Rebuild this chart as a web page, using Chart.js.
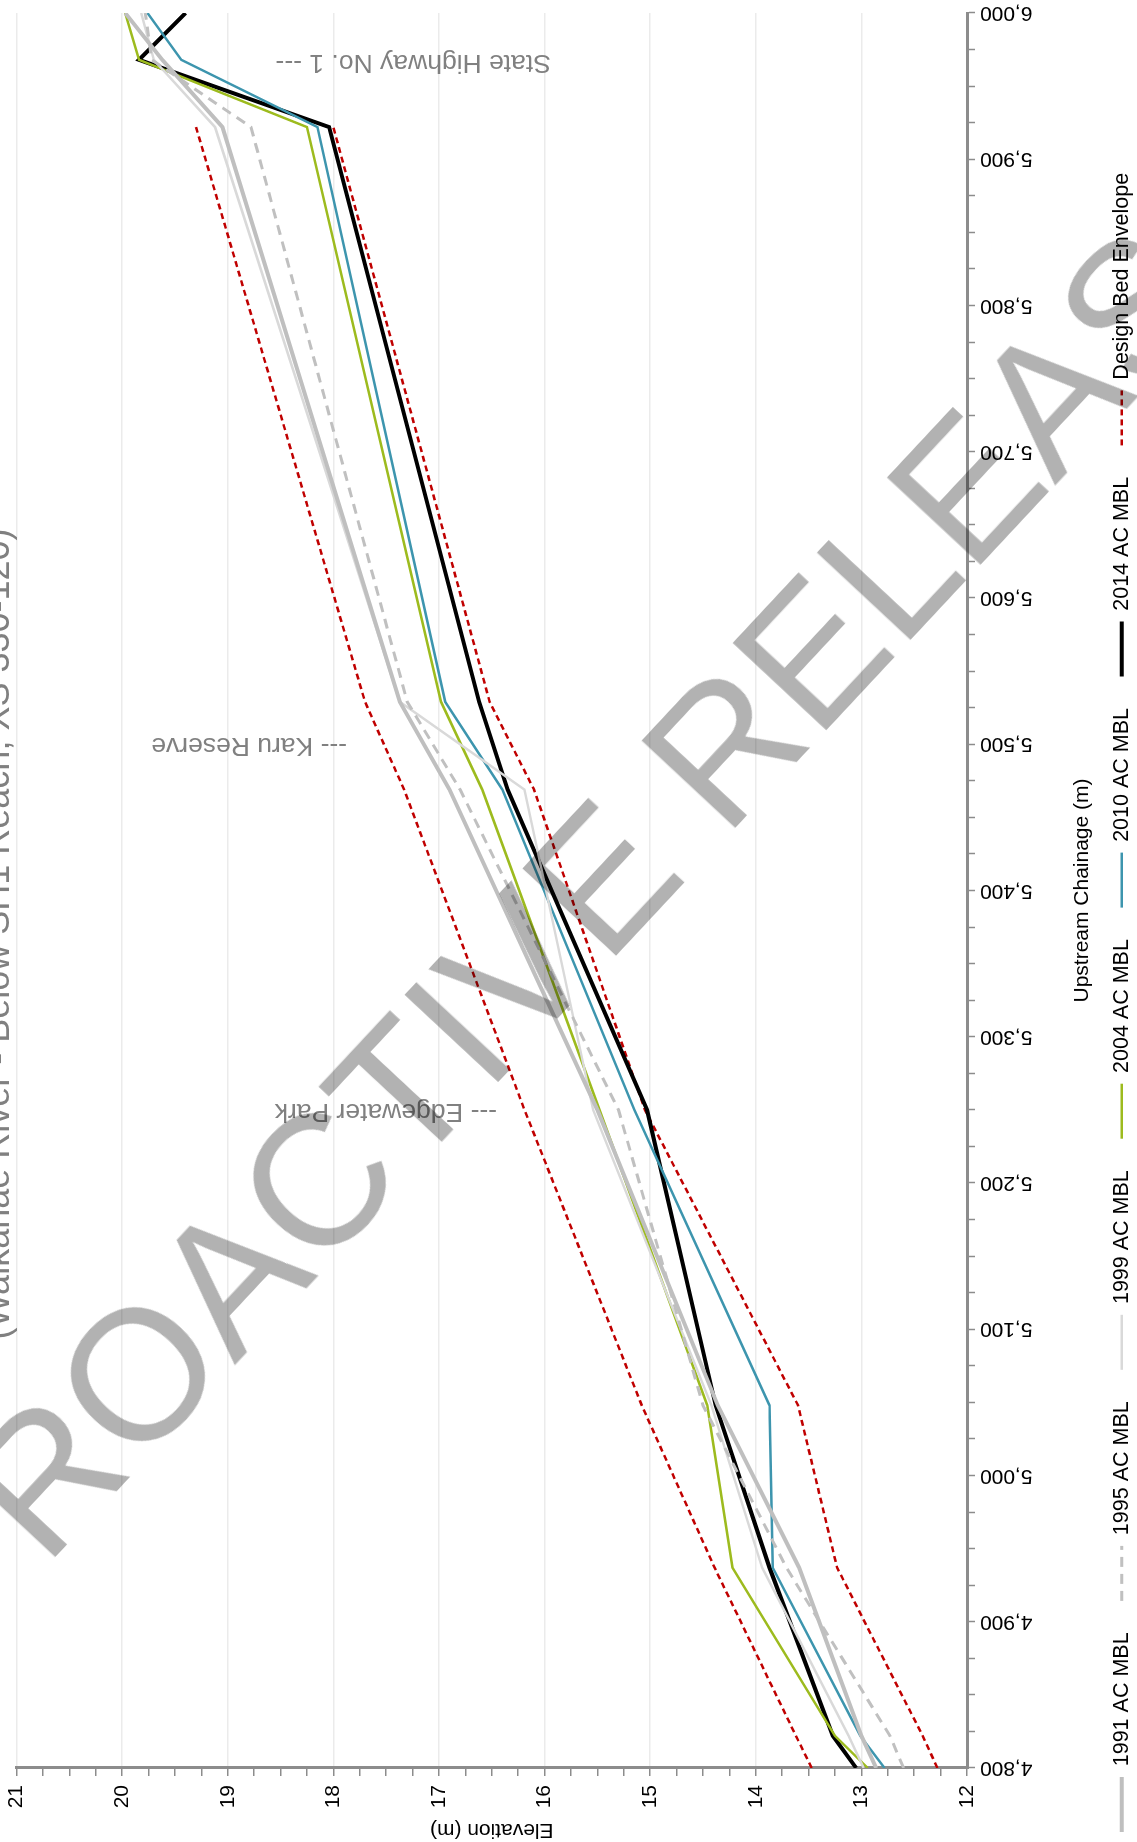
<!DOCTYPE html>
<html>
<head>
<meta charset="utf-8">
<title>Waikanae River - Below SH1 Reach</title>
<script src="https://cdn.jsdelivr.net/npm/chart.js@4.4.1/dist/chart.umd.min.js"></script>
<style>
  html, body { margin: 0; padding: 0; background: #fff; width: 1137px; height: 1842px; overflow: hidden; }
  #wrap { position: absolute; left: 0; top: 0; width: 1842px; height: 1137px;
          transform-origin: 0 0; transform: translate(0, 1842px) rotate(-90deg); }
  #stamp { position: absolute; left: 587px; top: 893px; transform: translate(-50%, -50%) rotate(-47deg);
           font: 185px "Liberation Sans", Arial, sans-serif; color: rgba(0, 0, 0, 0.3);
           white-space: nowrap; pointer-events: none; }
</style>
</head>
<body>
<div id="wrap"><canvas id="myChart" width="1842" height="1137"></canvas></div>
<div id="stamp">PROACTIVE RELEASE</div>
<script>
// surveyed cross-section chainages (m) and mean bed levels (m)
const chainages = [4800, 4822, 4937, 5048, 5250, 5469, 5529, 5922, 5968, 6000];
const mbl1991 = [12.86, 13.0, 13.59, 14.36, 15.5, 16.9, 17.37, 19.05, 19.62, 19.97];
const mbl1995 = [12.6, 12.73, 13.71, 14.5, 15.3, 16.8, 17.3, 18.78, 19.72, 19.78];
const mbl1999 = [12.98, 13.12, 13.94, 14.42, 15.54, 16.19, 17.37, 19.12, 19.7, 19.82];
const mbl2004 = [12.94, 13.25, 14.22, 14.46, 15.48, 16.59, 16.98, 18.25, 19.84, 19.97];
const mbl2010 = [12.78, 13.01, 13.84, 13.87, 15.15, 16.4, 16.94, 18.15, 19.44, 19.76];
const mbl2014 = [13.05, 13.27, 13.87, 14.38, 15.03, 16.35, 16.62, 18.04, 19.84, 19.4];

// design bed envelope
const envChainages = [4800, 4822, 4937, 5048, 5250, 5469, 5529, 5922];
const envUpper = [13.47, 13.62, 14.39, 15.08, 16.19, 17.33, 17.7, 19.3];
const envLower = [12.28, 12.42, 13.23, 13.6, 15.05, 16.1, 16.52, 18.0];

// landmarks along the reach
const siteNames = ['--- Edgewater Park', '--- Karu Reserve', 'State Highway No. 1 ---'];
const siteChainages = [5249, 5499, 5966];

const subTitle = '(Waikanae River - Below SH1 Reach, XS 330-120)';

function pts(xs, ys) {
  return xs.map((c, i) => ({ x: c, y: ys[i] }));
}

function line(label, xs, ys, color, width, dash) {
  return {
    label: label,
    data: pts(xs, ys),
    borderColor: color,
    backgroundColor: color,
    borderWidth: width,
    borderDash: dash || [],
    pointRadius: 0,
    pointStyle: 'line',
    tension: 0,
    fill: false
  };
}

Chart.defaults.font.family = '"Liberation Sans", Arial, sans-serif';
Chart.defaults.color = '#000';

// landmark labels and the cut-off title line
const notes = {
  id: 'notes',
  afterDatasetsDraw(chart) {
    const { ctx, scales: { x, y } } = chart;
    const startLevel = [16.45, 17.87, 15.94];
    ctx.save();
    ctx.fillStyle = '#808080';
    ctx.font = '26.5px "Liberation Sans", Arial, sans-serif';
    ctx.textAlign = 'left';
    ctx.textBaseline = 'middle';
    siteNames.forEach((name, i) => {
      ctx.save();
      ctx.translate(x.getPixelForValue(siteChainages[i]), y.getPixelForValue(startLevel[i]));
      ctx.rotate(-Math.PI / 2);
      ctx.fillText(name, 0, 0);
      ctx.restore();
    });
    ctx.font = '36px "Liberation Sans", Arial, sans-serif';
    ctx.textAlign = 'center';
    ctx.textBaseline = 'alphabetic';
    ctx.fillText(subTitle, 908, 9);
    ctx.restore();
  }
};

// put the legend row where it sits on the page
const legendSpot = {
  id: 'legendSpot',
  beforeDraw(chart) {
    const pad = chart.legend.options.labels.padding;
    chart.legend.left = 10 - pad;
    chart.legend.top = 1111 - pad;
  }
};

// legend samples take the dataset's own line style
function legendItems(chart) {
  const items = Chart.defaults.plugins.legend.labels.generateLabels(chart);
  return items.map(item => {
    const ds = chart.data.datasets[item.datasetIndex];
    item.lineDash = ds.borderDash;
    item.lineWidth = ds.borderWidth;
    item.strokeStyle = ds.borderColor;
    item.pointStyle = 'line';
    return item;
  });
}

const config = {
  type: 'line',
  data: {
    datasets: [
      line('1991 AC MBL', chainages, mbl1991, '#bfbfbf', 4),
      line('1995 AC MBL', chainages, mbl1995, '#c0c0c0', 3, [10, 7]),
      line('1999 AC MBL', chainages, mbl1999, '#d9d9d9', 2.5),
      line('2004 AC MBL', chainages, mbl2004, '#9dbb1e', 2.5),
      line('2010 AC MBL', chainages, mbl2010, '#3d95ae', 2.5),
      line('2014 AC MBL', chainages, mbl2014, '#000000', 4),
      line('Design Bed Envelope', envChainages, envUpper, '#c00000', 2.5, [6, 4]),
      line('Design Bed Envelope', envChainages, envLower, '#c00000', 2.5, [6, 4])
    ]
  },
  options: {
    responsive: false,
    animation: false,
    devicePixelRatio: 1,
    layout: { padding: { top: 16.5, right: 0, left: 0, bottom: 0 } },
    plugins: {
      legend: {
        position: 'bottom',
        align: 'start',
        maxHeight: 42,
        labels: {
          usePointStyle: true,
          pointStyle: 'line',
          pointStyleWidth: 55,
          padding: 31.5,
          font: { size: 21.5 },
          generateLabels: legendItems,
          filter: item => item.datasetIndex !== 7
        }
      },
      tooltip: { enabled: false }
    },
    scales: {
      x: {
        type: 'linear',
        min: 4800,
        max: 6000,
        afterFit: s => { s.height = 128; s.paddingLeft = 0; s.paddingRight = 13; },
        ticks: {
          stepSize: 25,
          autoSkip: false,
          minRotation: 90,
          maxRotation: 90,
          padding: 5,
          font: { size: 21 },
          callback: v => (v % 100 === 0 ? v.toLocaleString('en-US') : '')
        },
        grid: { drawOnChartArea: false, tickLength: 8, tickColor: '#8c8c8c', tickWidth: 1.5 },
        border: { color: '#8c8c8c', width: 3 },
        title: {
          display: true,
          text: 'Upstream Chainage (m)',
          font: { size: 21 },
          padding: { top: 37, bottom: 0 }
        }
      },
      y: {
        min: 12,
        max: 21,
        afterFit: s => { s.width = 74; s.paddingTop = 0; s.paddingBottom = 0; },
        ticks: {
          stepSize: 0.25,
          autoSkip: false,
          padding: 9,
          font: { size: 21 },
          callback: v => (Number.isInteger(v) ? v : '')
        },
        grid: {
          color: c => (Number.isInteger(c.tick.value) ? '#ebebeb' : 'rgba(0,0,0,0)'),
          lineWidth: 1.5,
          tickLength: 8,
          tickColor: '#8c8c8c',
          tickWidth: 1.5
        },
        border: { color: '#8c8c8c', width: 3 },
        title: {
          display: true,
          text: 'Elevation (m)',
          font: { size: 21 },
          padding: { top: 0, bottom: 8.4 }
        }
      }
    }
  },
  plugins: [notes, legendSpot]
};

var myChart = new Chart(document.getElementById('myChart'), config);
</script>
</body>
</html>
